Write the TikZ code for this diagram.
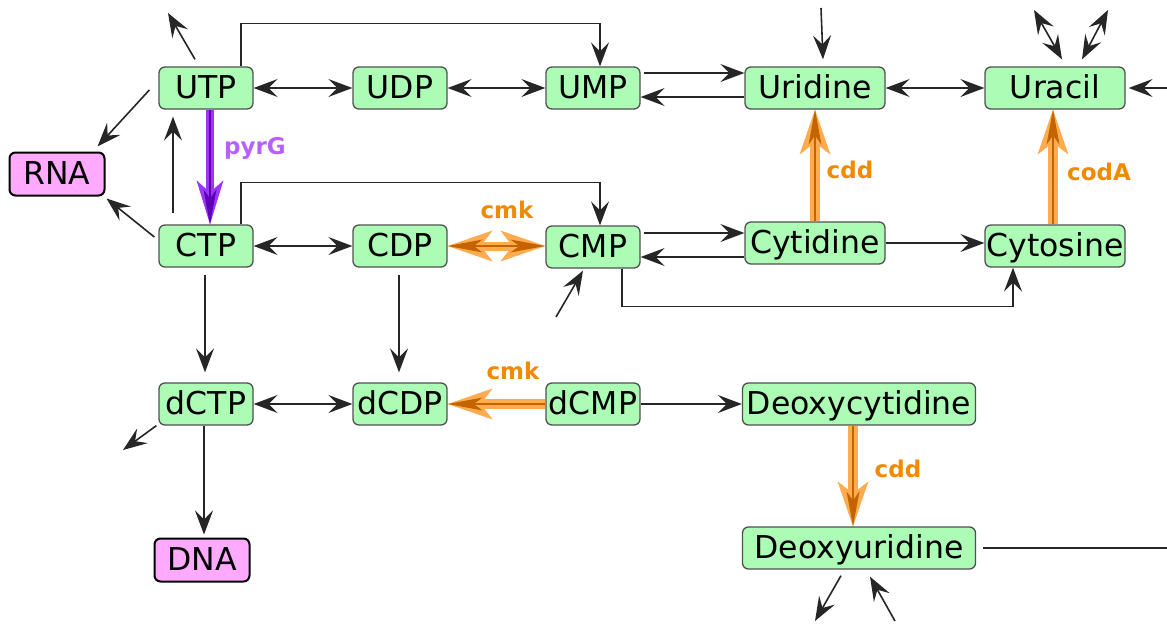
\documentclass[tikz,border=0pt]{standalone}
\usepackage{fontspec}
\setmainfont{DejaVu Sans}
\usetikzlibrary{arrows.meta,calc}
\definecolor{nodegreen}{RGB}{172,252,182}
\definecolor{nodeborder}{RGB}{80,80,80}
\definecolor{pinkfill}{RGB}{255,170,255}
\definecolor{orlight}{RGB}{255,172,80}
\definecolor{ordark}{RGB}{195,100,0}
\definecolor{orlabel}{RGB}{240,138,0}
\definecolor{pulight}{RGB}{155,55,245}
\definecolor{pudark}{RGB}{95,0,185}
\definecolor{pulabel}{RGB}{185,95,255}
\begin{document}
\begin{tikzpicture}[x=1pt,y=-1pt,
  met/.style={draw=nodeborder, line width=1.3pt, fill=nodegreen, rounded corners=6pt,
    minimum height=42pt, inner sep=0pt, text height=23pt, text depth=2pt,
    font=\fontsize{31.5}{36}\selectfont},
  sm/.style={met, minimum width=94pt},
  md/.style={met, minimum width=140pt},
  lg/.style={met, minimum width=233pt},
  poly/.style={draw=black, line width=2pt, fill=pinkfill, rounded corners=6pt,
    minimum width=95pt, minimum height=43pt, inner sep=0pt, text height=23pt, text depth=2pt,
    font=\fontsize{31.5}{36}\selectfont},
  hd/.tip={Stealth[length=24pt,width=18pt,inset=9pt]},
  conn/.style={draw=black!85, line width=1.6pt, -hd},
  bi/.style={draw=black!85, line width=1.6pt, hd-hd},
  plain/.style={draw=black!85, line width=1.6pt},
  ohd/.tip={Stealth[length=45pt,width=31pt,inset=12pt,line width=0pt]},
  ihd/.tip={Stealth[length=35pt,width=13pt,inset=9pt,line width=0pt]},
  fo/.style={draw=orlight, line width=10pt, -ohd},
  fi/.style={draw=ordark, line width=2pt, -ihd},
  fobi/.style={draw=orlight, line width=9pt, ohd-ohd},
  fibi/.style={draw=ordark, line width=2pt, ihd-ihd},
  phd/.tip={Stealth[length=44pt,width=27pt,inset=12pt,line width=0pt]},
  pihd/.tip={Stealth[length=35pt,width=13pt,inset=9pt,line width=0pt]},
  po/.style={draw=pulight, line width=8pt, -phd},
  pi/.style={draw=pudark, line width=2pt, -pihd},
  olab/.style={text=orlabel, font=\fontsize{23}{26}\selectfont\bfseries},
  plab/.style={text=pulabel, font=\fontsize{23}{26}\selectfont\bfseries}
]
\useasboundingbox[fill=white] (0,0) rectangle (1167,624);

% nodes
\node[sm] (UTP) at (206,88) {UTP};
\node[sm] (UDP) at (400,88) {UDP};
\node[sm] (UMP) at (593,88) {UMP};
\node[md] (Uridine) at (815,88) {Uridine};
\node[md] (Uracil) at (1055,88) {Uracil};
\node[poly] (RNA) at (57,174) {RNA};
\node[sm] (CTP) at (206,246) {CTP};
\node[sm] (CDP) at (400,246) {CDP};
\node[sm] (CMP) at (593,247) {CMP};
\node[md] (Cytidine) at (815,243) {Cytidine};
\node[md] (Cytosine) at (1055,246) {Cytosine};
\node[sm] (dCTP) at (206,404) {dCTP};
\node[sm] (dCDP) at (400,404) {dCDP};
\node[sm] (dCMP) at (593,404) {dCMP};
\node[lg] (Deoxycytidine) at (859,404) {Deoxycytidine};
\node[lg] (Deoxyuridine) at (859,548) {Deoxyuridine};
\node[poly] (DNA) at (202,560) {DNA};

% free ends
\coordinate (utpout) at (168,13);
\coordinate (dctpout) at (123,450);
\coordinate (cmpin) at (556,317);
\coordinate (uridin) at (821,8);
\coordinate (uraA) at (1034,10);
\coordinate (uraB) at (1108,10);
\coordinate (urain) at (1167,88);
\coordinate (duend) at (1167,548);
\coordinate (duout) at (815,621);
\coordinate (duin) at (895,621);

% row 1
\draw[bi] (UTP) -- (UDP);
\draw[bi] (UDP) -- (UMP);
\draw[conn] ([shift={(3,-15)}]UMP.east) -- ([yshift=15pt]Uridine.west);
\draw[conn] ([yshift=-9pt]Uridine.west) -- ([yshift=-9pt]UMP.east);
\draw[bi] (Uridine) -- (Uracil);
\draw[conn] ([xshift=35pt]UTP.north) -- ++(0,-43) -| ([xshift=7pt]UMP.north);
\draw[conn] ([shift={(-11,-7)}]UTP.north) -- (utpout);
\draw[conn] (uridin) -- ([shift={(8,-7)}]Uridine.north);
\draw[bi] ([shift={(7,-7)}]Uracil.north) -- (uraA);
\draw[bi] ([shift={(27,-7)}]Uracil.north) -- (uraB);
\draw[conn] (urain) -- ([xshift=3pt]Uracil.east);

% RNA
\draw[conn] ([shift={(-9,2)}]UTP.west) -- ([shift={(-8,-5)}]RNA.north east);
\draw[conn] ([shift={(-4,-9)}]CTP.west) -- ([shift={(1,2)}]RNA.south east);
\draw[conn] ([shift={(-33,-11)}]CTP.north) -- ([shift={(-33,7)}]UTP.south);

% row 2
\draw[bi] (CTP) -- (CDP);
\draw[conn] ([xshift=35pt]CTP.north) -- ++(0,-42) -| ([xshift=7pt]CMP.north);
\draw[conn] ([shift={(3,-14)}]CMP.east) -- ([yshift=10pt]Cytidine.west);
\draw[conn] ([yshift=-14pt]Cytidine.west) -- ([yshift=-10pt]CMP.east);
\draw[conn] (Cytidine.east) -- ([yshift=3pt]Cytosine.west);
\draw[conn] ([xshift=29pt]CMP.south) -- ++(0,38) -| ([xshift=-42pt]Cytosine.south);
\draw[conn] (cmpin) -- ([shift={(-10,2)}]CMP.south);

% row 2 -> 3
\draw[conn] ([shift={(-1,7)}]CTP.south) -- ([shift={(-1,-10)}]dCTP.north);
\draw[conn] ([shift={(-1,7)}]CDP.south) -- ([shift={(-1,-10)}]dCDP.north);

% row 3
\draw[bi] (dCTP) -- (dCDP);
\draw[conn] (dCMP) -- (Deoxycytidine);
\draw[conn] ([xshift=-2pt]dCTP.south west) -- (dctpout);
\draw[conn] ([xshift=-2pt]dCTP.south) -- ([shift={(2,-3)}]DNA.north);

% deoxyuridine
\draw[plain] ([xshift=7pt]Deoxyuridine.east) -- (duend);
\draw[conn] ([shift={(-18,6)}]Deoxyuridine.south) -- (duout);
\draw[conn] (duin) -- ([shift={(11,7)}]Deoxyuridine.south);

% enzyme arrows
\draw[po] ([xshift=4pt]UTP.south) -- ([xshift=4pt]CTP.north);
\draw[pi] ([xshift=4pt]UTP.south) -- ([xshift=4pt]CTP.north);
\node[plab] (pyrG) at (255,148) {pyrG};

\draw[fobi] (CDP.east) -- (CMP.west |- CDP.east);
\draw[fibi] (CDP.east) -- (CMP.west |- CDP.east);
\node[olab] (cmk1) at (507,210) {cmk};

\draw[fo] (dCMP.west) -- (dCDP.east);
\draw[fi] (dCMP.west) -- (dCDP.east);
\node[olab] (cmk2) at (513,371) {cmk};

\draw[fo] (Cytidine.north) -- (Uridine.south);
\draw[fi] (Cytidine.north) -- (Uridine.south);
\node[olab] (cdd1) at (850,170) {cdd};

\draw[fo] ([xshift=-2pt]Cytosine.north) -- ([xshift=-2pt]Uracil.south);
\draw[fi] ([xshift=-2pt]Cytosine.north) -- ([xshift=-2pt]Uracil.south);
\node[olab] (codA) at (1099,172) {codA};

\draw[fo] ([xshift=-6pt]Deoxycytidine.south) -- ([xshift=-6pt]Deoxyuridine.north);
\draw[fi] ([xshift=-6pt]Deoxycytidine.south) -- ([xshift=-6pt]Deoxyuridine.north);
\node[olab] (cdd2) at (898,469) {cdd};
\end{tikzpicture}
\end{document}
